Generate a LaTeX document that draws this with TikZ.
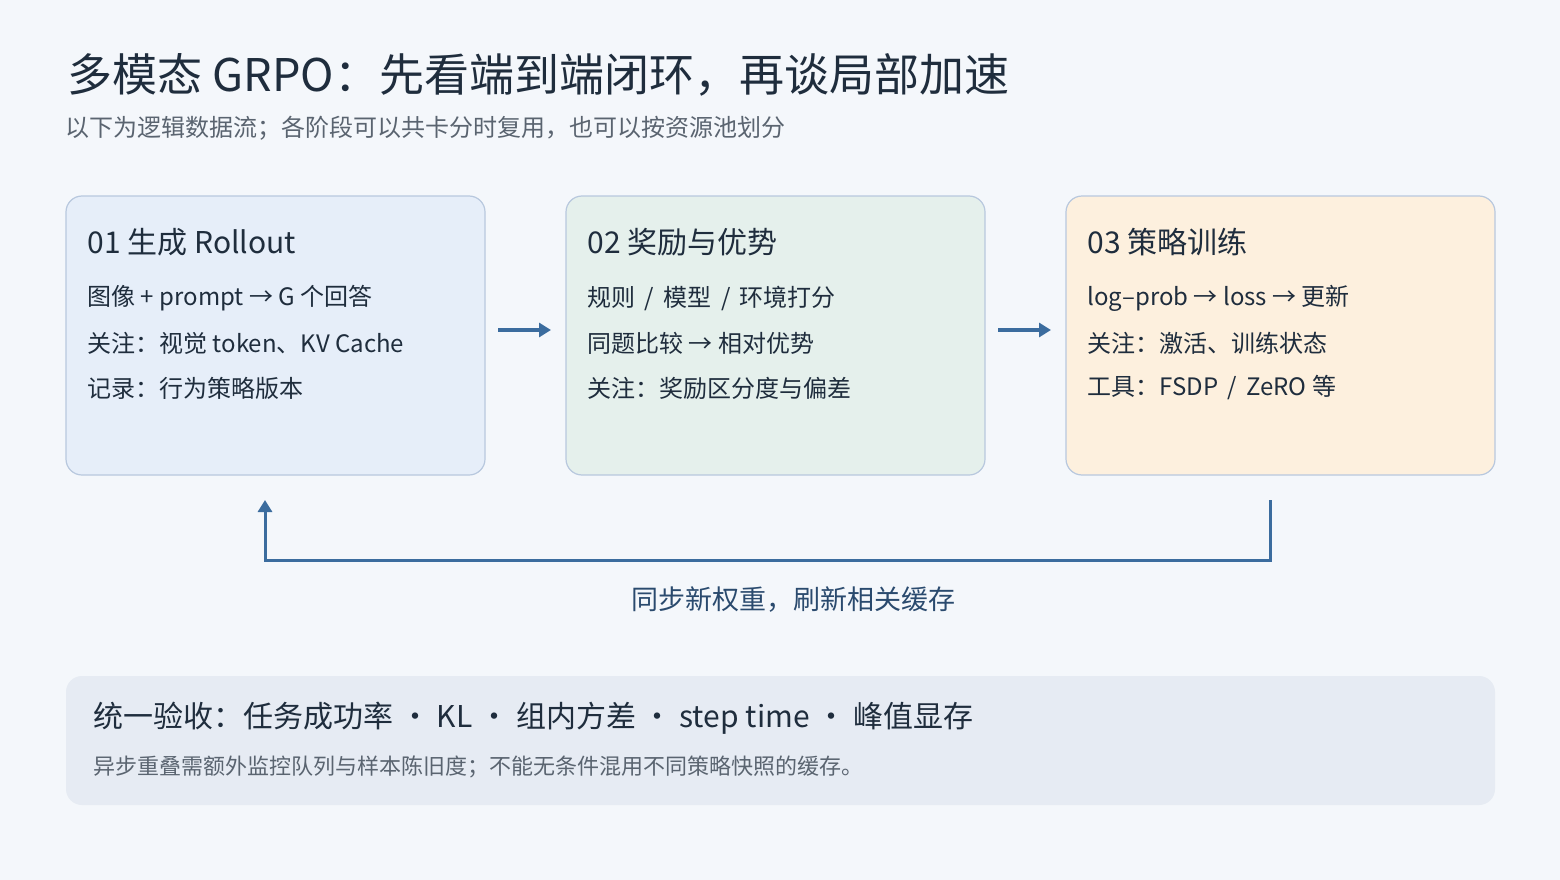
\documentclass[tikz,border=0pt]{standalone}
\usepackage{fontspec}
\setmainfont{Noto Sans CJK SC}
\usetikzlibrary{arrows.meta}
\definecolor{bg}{HTML}{F4F7FB}
\definecolor{ink}{HTML}{1F2D3D}
\definecolor{sub}{HTML}{5A6470}
\definecolor{arr}{HTML}{3B6C9E}
\definecolor{lab}{HTML}{2A4A6E}
\definecolor{fa}{HTML}{E6EEF9}
\definecolor{fb}{HTML}{E5F0EC}
\definecolor{fc}{HTML}{FDF0DE}
\definecolor{bd}{HTML}{B8C8DE}
\definecolor{fbot}{HTML}{E6EBF3}
\begin{document}
\begin{tikzpicture}[x=1pt,y=-1pt,
  card/.style={draw=bd,line width=1.2pt,rounded corners=16pt},
  ttl/.style={anchor=west,text=ink,font=\fontsize{30}{34}\selectfont},
  ln/.style={anchor=west,text=ink,font=\fontsize{24}{28}\selectfont},
  ar/.style={draw=arr,line width=3.5pt,-{Triangle[length=12pt,width=14pt]}}]
\useasboundingbox[fill=bg] (0,0) rectangle (1560,880);
\node[anchor=west,text=ink,font=\fontsize{45}{50}\selectfont] (t) at (64,75) {多模态 GRPO：先看端到端闭环，再谈局部加速};
\node[anchor=west,text=sub,font=\fontsize{24}{28}\selectfont] (s) at (62,128) {以下为逻辑数据流；各阶段可以共卡分时复用，也可以按资源池划分};
\path[card,fill=fa] (66,196) rectangle (485,475);
\path[card,fill=fb] (566,196) rectangle (985,475);
\path[card,fill=fc] (1066,196) rectangle (1495,475);
\node[ttl] (a0) at (84,242) {01 生成 Rollout};
\node[ln] (a1) at (84,298) {图像 + prompt → G 个回答};
\node[ln] (a2) at (84,343) {关注：视觉 token、KV Cache};
\node[ln] (a3) at (84,388) {记录：行为策略版本};
\node[ttl] (b0) at (584,242) {02 奖励与优势};
\node[ln] (b1) at (584,298) {规则 \,/\, 模型 \,/\, 环境打分};
\node[ln] (b2) at (584,343) {同题比较 → 相对优势};
\node[ln] (b3) at (584,388) {关注：奖励区分度与偏差};
\node[ttl] (c0) at (1084,242) {03 策略训练};
\node[ln] (c1) at (1084,298) {log–prob → loss → 更新};
\node[ln] (c2) at (1084,343) {关注：激活、训练状态};
\node[ln] (c3) at (1084,388) {工具：FSDP \,/\, ZeRO 等};
\coordinate (p1) at (498,330); \coordinate (p2) at (551,330);
\coordinate (q1) at (998,330); \coordinate (q2) at (1051,330);
\draw[ar] (p1) -- (p2);
\draw[ar] (q1) -- (q2);
\coordinate (f1) at (1270,500); \coordinate (f2) at (265,500);
\draw[ar,line width=3pt] (f1) -- (1270,560) -- (265,560) -- (f2);
\node[text=lab,font=\fontsize{27}{30}\selectfont] (fl) at (793,600) {同步新权重，刷新相关缓存};
\path[fill=fbot,rounded corners=16pt] (66,676) rectangle (1495,805);
\node[anchor=west,text=ink,font=\fontsize{30}{34}\selectfont] (u1) at (90,718) {统一验收：任务成功率 · KL · 组内方差 · step time · 峰值显存};
\node[anchor=west,text=sub,font=\fontsize{22}{26}\selectfont] (u2) at (90,767) {异步重叠需额外监控队列与样本陈旧度；不能无条件混用不同策略快照的缓存。};
\end{tikzpicture}
\end{document}
